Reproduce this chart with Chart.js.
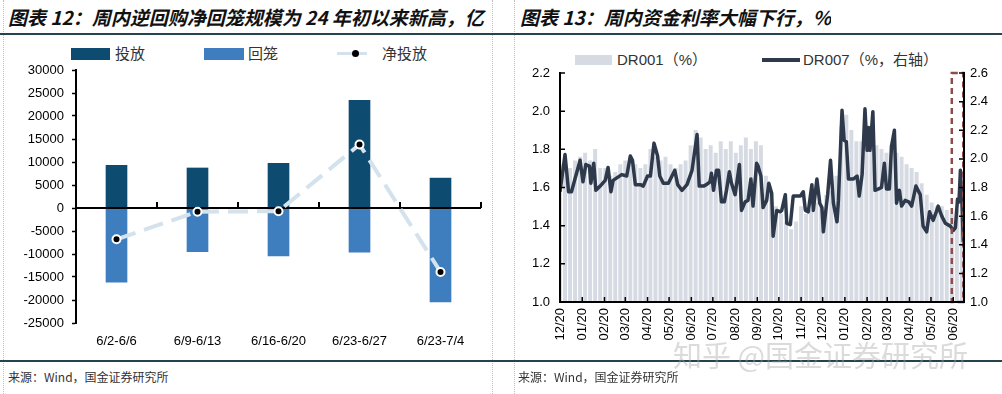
<!DOCTYPE html>
<html>
<head>
<meta charset="utf-8">
<script src="https://cdn.jsdelivr.net/npm/chart.js@4.4.1/dist/chart.umd.min.js"></script>
<style>
  body { margin:0; width:1002px; height:394px; background:#fff; position:relative; overflow:hidden; font-family:"Liberation Sans", Arial, sans-serif; }
  .abs { position:absolute; }
  .title { font-family:"Noto Sans CJK SC"; font-weight:bold; font-style:italic; font-size:19px; color:#111; white-space:nowrap; top:5px; line-height:24px; overflow:hidden; }
  .rule { height:2px; background:#24434f; left:0; width:1002px; }
  .vdot { top:0; height:394px; border-left:1px dotted #bdbdbd; }
  .src { font-family:"Noto Sans CJK SC"; font-size:12px; color:#333; top:369px; line-height:16px; }
  .leg { font-family:"Noto Sans CJK SC"; font-size:15px; color:#333; line-height:18px; white-space:nowrap; }
  .leg2 { font-family:"Liberation Sans", "Noto Sans CJK SC"; font-size:15px; color:#333; line-height:18px; white-space:nowrap; }
  .wm { font-family:"Noto Sans CJK SC"; font-size:29px; color:rgba(165,165,165,0.4); white-space:nowrap; }
</style>
</head>
<body>
<div class="abs vdot" style="left:3px"></div>
<div class="abs vdot" style="left:492px"></div>
<div class="abs vdot" style="left:514px"></div>

<div class="abs title" style="left:8px; width:484px;">图表 12：周内逆回购净回笼规模为 24 年初以来新高，亿</div>
<div class="abs title" style="left:520px;">图表 13：周内资金利率大幅下行，%</div>
<div class="abs rule" style="top:33px"></div>
<div class="abs rule" style="top:360px"></div>

<!-- legend 12 -->
<div class="abs" style="left:71px; top:48px; width:39px; height:12px; background:#0e4b71"></div>
<div class="abs leg" style="left:115px; top:44px">投放</div>
<div class="abs" style="left:204px; top:48px; width:40px; height:12px; background:#3e7ebf"></div>
<div class="abs leg" style="left:248px; top:44px">回笼</div>
<div class="abs" style="left:337px; top:52px; width:30px; height:3px; background:#d3e2ed"></div>
<div class="abs" style="left:352px; top:50px; width:7px; height:7px; border-radius:50%; background:#000"></div>
<div class="abs leg" style="left:382px; top:44px">净投放</div>

<!-- legend 13 -->
<div class="abs" style="left:575px; top:55px; width:37px; height:10px; background:#d6dae3"></div>
<div class="abs leg2" style="left:617px; top:51px">DR001（%）</div>
<div class="abs" style="left:762px; top:58px; width:38px; height:4px; background:#2e3a4b"></div>
<div class="abs leg2" style="left:803px; top:51px">DR007（%，右轴）</div>

<canvas id="c1" class="abs" width="492" height="320" style="left:0; top:40px"></canvas>
<canvas id="c2" class="abs" width="497" height="320" style="left:505px; top:40px"></canvas>

<div class="abs src" style="left:8px">来源：Wind，国金证券研究所</div>
<div class="abs src" style="left:518px">来源：Wind，国金证券研究所</div>
<div class="abs wm" style="left:673px; top:333px">知乎 @国金证券研究所</div>

<script>
// 图表12：逆回购投放 / 回笼（亿元）
const weekLabels = ['6/2-6/6', '6/9-6/13', '6/16-6/20', '6/23-6/27', '6/23-7/4'];
const injection = [9300, 8700, 9700, 23400, 6500];
const withdrawal = [-16100, -9500, -10400, -9600, -20400];
const netInjection = [-6800, -800, -700, 13800, -13900];

// 图表13：x 为距 2023-12-20 的天数
const tickLabels = ['12/20','01/20','02/20','03/20','04/20','05/20','06/20','07/20','08/20','09/20',
  '10/20','11/20','12/20','01/20','02/20','03/20','04/20','05/20','06/20'];
const dr007Days = [0,7,12,16,28,32,36,41,43,47,50,56,63,67,71,74,86,93,98,101,
  105,112,116,122,126,131,136,139,144,151,160,164,170,177,184,191,194,200,204,209,
  211,214,218,221,225,229,232,236,239,244,250,253,258,262,266,269,274,276,280,283,
  288,291,295,297,302,307,309,314,316,321,325,330,335,339,342,346,351,353,358,362,
  365,367,373,377,381,386,388,393,396,399,402,409,414,417,421,425,428,430,432,436,
  439,444,448,452,455,459,462,466,469,473,476,481,486,490,496,502,506,511,515,520,
  523,527,532,537,544,548,551,554,556,558,560,562];
const dr007 = [1.77,2.03,1.77,1.77,1.99,1.84,1.96,1.95,1.83,1.97,1.78,1.81,1.85,1.94,1.77,1.85,1.89,1.88,2.02,1.99,
  1.82,1.82,1.81,1.88,1.88,2.11,2.02,1.88,1.83,1.83,1.92,1.82,1.78,1.82,1.92,2.17,1.81,1.81,1.82,1.84,
  1.90,1.78,1.92,1.92,1.70,1.70,1.78,1.91,1.83,1.75,1.96,1.64,1.70,1.71,1.86,1.67,1.97,1.95,1.88,1.66,
  1.71,1.83,1.76,1.46,1.64,1.63,1.64,1.75,1.55,1.54,1.74,1.74,1.74,1.77,1.64,1.63,1.82,1.64,1.86,1.69,
  1.66,1.49,1.75,1.99,1.69,1.56,1.71,2.34,2.13,2.12,1.86,1.86,1.88,1.74,1.89,2.35,2.06,2.22,2.06,2.33,
  1.78,1.79,1.80,1.97,1.79,1.79,2.09,2.20,1.69,1.78,1.67,1.71,1.70,1.67,1.81,1.75,1.53,1.49,1.63,1.57,
  1.61,1.67,1.60,1.55,1.53,1.50,1.52,1.72,1.70,1.92,1.71,1.42];
// DR001 每周一根（周三居中）
const dr001Weekly = [1.72,1.75,1.70,1.74,1.76,1.78,1.74,1.80,1.70,1.70,
  1.66,1.68,1.72,1.74,1.76,1.72,1.70,1.72,1.80,1.76,
  1.74,1.76,1.72,1.70,1.72,1.74,1.82,1.90,1.86,1.80,
  1.82,1.78,1.84,1.80,1.84,1.78,1.82,1.86,1.80,1.84,
  1.82,1.66,1.58,1.50,1.46,1.42,1.38,1.42,1.50,1.46,
  1.48,1.52,1.50,1.56,1.58,1.66,1.92,1.98,1.90,1.84,
  1.84,1.86,1.88,1.82,1.80,1.78,1.82,1.78,1.76,1.72,
  1.70,1.68,1.62,1.56,1.52,1.50,1.50,1.48,1.46,1.48,1.44];
const markFrom = 546, markTo = 562;

const tickFont = {family: 'Liberation Sans', size: 13};

// zero line drawn over the bars, with category tick marks pointing up
const zeroAxis = {
  id: 'zeroAxis',
  afterDatasetDraw(chart, args) {
    if (args.index !== 0) return;
    const {ctx, chartArea: a, scales: {x, y}} = chart;
    const y0 = y.getPixelForValue(0);
    const n = x.ticks.length;
    ctx.save();
    ctx.strokeStyle = '#000';
    ctx.lineWidth = 2;
    ctx.beginPath();
    ctx.moveTo(a.left, y0);
    ctx.lineTo(a.right, y0);
    for (let i = 1; i <= n; i++) {
      const px = a.left + (a.right - a.left) * i / n;
      ctx.moveTo(px, y0);
      ctx.lineTo(px, y0 - 6);
    }
    ctx.stroke();
    ctx.restore();
  }
};

const innerTicks = {
  id: 'innerTicks',
  afterDraw(chart) {
    const {ctx, chartArea: a, scales} = chart;
    ctx.save();
    ctx.strokeStyle = '#000';
    ctx.lineWidth = 1.5;
    ctx.beginPath();
    scales.x.ticks.forEach(t => {
      const px = scales.x.getPixelForValue(t.value);
      ctx.moveTo(px, a.bottom);
      ctx.lineTo(px, a.bottom - 5);
    });
    scales.y.ticks.forEach(t => {
      const py = scales.y.getPixelForValue(t.value);
      ctx.moveTo(a.left, py);
      ctx.lineTo(a.left + 5, py);
    });
    scales.y2.ticks.forEach(t => {
      const py = scales.y2.getPixelForValue(t.value);
      ctx.moveTo(a.right, py);
      ctx.lineTo(a.right - 5, py);
    });
    ctx.stroke();
    ctx.restore();
  }
};

const markBox = {
  id: 'markBox',
  afterDatasetsDraw(chart) {
    const {ctx, chartArea: a, scales: {x}} = chart;
    const x0 = x.getPixelForValue(markFrom);
    const x1 = x.getPixelForValue(markTo);
    ctx.save();
    ctx.setLineDash([6, 4]);
    ctx.strokeStyle = '#8e4d4d';
    ctx.lineWidth = 2.5;
    ctx.strokeRect(x0, a.top, x1 - x0, a.bottom - a.top);
    ctx.restore();
  }
};

new Chart(document.getElementById('c1'), {
  type: 'bar',
  data: {
    labels: weekLabels,
    datasets: [
      {label: '投放', data: injection, backgroundColor: '#0e4b71', barThickness: 21, order: 2},
      {label: '回笼', data: withdrawal, backgroundColor: '#3e7ebf', barThickness: 21, order: 2},
      {type: 'line', label: '净投放', data: netInjection, borderColor: '#d3e2ed', borderWidth: 4,
        borderDash: [20, 9], pointRadius: 4, pointBackgroundColor: '#000', pointBorderColor: '#fff',
        pointBorderWidth: 2, tension: 0, order: 1}
    ]
  },
  options: {
    responsive: false,
    animation: false,
    layout: {padding: {top: 30, right: 11}},
    plugins: {legend: {display: false}, tooltip: {enabled: false}},
    scales: {
      x: {
        stacked: true,
        grid: {display: false, drawTicks: false},
        border: {display: false},
        ticks: {padding: 11, color: '#000', font: tickFont},
        afterFit(s) { s.height = 37; }
      },
      y: {
        stacked: true, min: -25000, max: 30000,
        ticks: {stepSize: 5000, padding: 8, color: '#000', font: tickFont, callback: v => String(v)},
        grid: {drawOnChartArea: false, drawTicks: true, tickLength: 4, tickColor: '#000', tickWidth: 1.5},
        border: {color: '#000', width: 2, z: 1},
        afterFit(s) { s.width = 76; }
      }
    }
  },
  plugins: [zeroAxis]
});

new Chart(document.getElementById('c2'), {
  type: 'bar',
  data: {
    datasets: [
      {type: 'line', label: 'DR007（%，右轴）', data: dr007Days.map((d, i) => ({x: d, y: dr007[i]})),
        yAxisID: 'y2', borderColor: '#2e3a4b', borderWidth: 3.5, pointRadius: 0, tension: 0,
        borderJoinStyle: 'round', order: 1},
      {label: 'DR001（%）', data: dr001Weekly.map((v, i) => ({x: i * 7, y: v})),
        backgroundColor: '#d6dae3', barThickness: 3.3, order: 2}
    ]
  },
  options: {
    responsive: false,
    animation: false,
    layout: {padding: {top: 33}},
    plugins: {legend: {display: false}, tooltip: {enabled: false}},
    scales: {
      x: {
        type: 'linear', min: 0, max: 563, offset: false,
        grid: {display: false, drawTicks: false, offset: false},
        border: {color: '#000', width: 2, z: 1},
        afterBuildTicks(s) {
          const start = new Date(2023, 11, 20);
          s.ticks = tickLabels.map((t, i) => ({value: Math.round((new Date(2023, 11 + i, 20) - start) / 864e5)}));
        },
        ticks: {autoSkip: false, minRotation: 90, maxRotation: 90, padding: 6, color: '#000', font: tickFont,
          callback: (v, i) => tickLabels[i]},
        afterFit(s) { s.height = 58; }
      },
      y: {
        position: 'left', min: 1, max: 2.2,
        ticks: {stepSize: 0.2, padding: 10, color: '#000', font: tickFont, callback: v => v.toFixed(1)},
        grid: {display: false, drawTicks: false},
        border: {color: '#000', width: 2, z: 1},
        afterFit(s) { s.width = 55; }
      },
      y2: {
        position: 'right', min: 1, max: 2.6,
        ticks: {stepSize: 0.2, padding: 6, color: '#000', font: tickFont, callback: v => v.toFixed(1)},
        grid: {display: false, drawTicks: false},
        border: {color: '#000', width: 2, z: 1},
        afterFit(s) { s.width = 38; }
      }
    }
  },
  plugins: [innerTicks, markBox]
});
</script>
</body>
</html>
